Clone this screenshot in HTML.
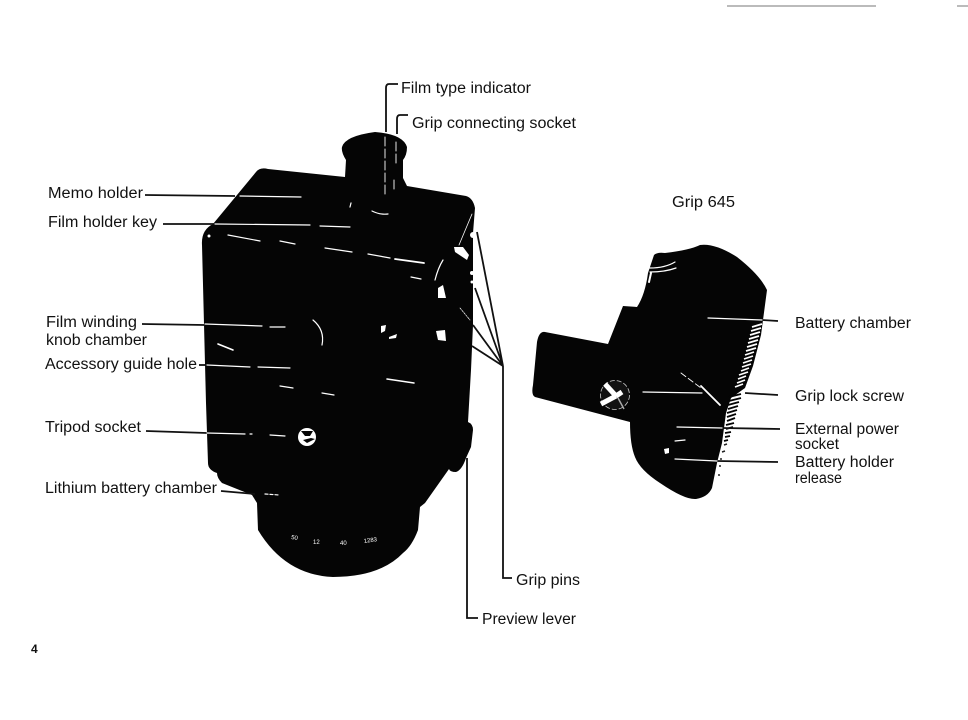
<!DOCTYPE html>
<html><head><meta charset="utf-8"><style>
html,body{margin:0;padding:0;background:#fff}
svg{display:block}
text{font-family:"Liberation Sans",sans-serif;font-size:15.5px;fill:#111}
</style></head><body>
<svg width="968" height="720" viewBox="0 0 968 720" xmlns="http://www.w3.org/2000/svg">
<rect width="968" height="720" fill="#fff"/>
<path d="M727 6H876M957 6H968" stroke="#777" stroke-width="1"/>

<!-- camera body -->
<path d="M256 172Q260 167 268 169L345 177L346 160Q341 152 342 147Q345 136 375 132Q403 134 407 147Q407 155 403 160L403 178L407 186L466 196Q473 198 475 208L473 233L473 325L471 370L468 422Q473 424 473 430L471 447L466 458Q462 470 456 472Q450 472 449 469L425 503L420 507L418 530Q412 546 403 553Q380 577 333 577Q285 575 258 530L257 503L252 495L222 483Q217 478 217 473Q208 470 208 463L206 403L202 245Q201 230 213 224Z" fill="#050505"/>
<!-- grip -->
<path d="M545 332L608 344L623 306L637 307Q645 295 648 273L654 255Q657 252 665 253Q690 250 700 245Q715 243 737 257Q760 275 767 290L763 320L761 335L753 366L745 388L731 398L726 413L722 443L717 463L712 488Q708 497 696 499Q685 500 660 483Q640 470 635 457Q630 445 630 422L535 397Q531 395 533 385L537 342Q539 331 545 332Z" fill="#050505"/>
<!-- knurling -->
<path d="M752 327l10 -3M751 331l10 -3M750 335l10 -3M749 339l10 -3M748 343l10 -3M747 347l10 -3M746 351l10 -3M745 355l9 -3M744 359l9 -3M743 363l9 -3M742 367l9 -3M741 371l8 -3M739 375l9 -3M738 379l8 -3M737 383l8 -3M735 387l8 -3" stroke="#fff" stroke-width="1.7" fill="none"/>
<path d="M729 397l12 -3M729 401l12 -3M728 405l11 -3M728 409l10 -3M727 413l10 -3M727 417l9 -3M727 421l8 -3M726 425l8 -2M726 429l7 -2M725 433l6 -1M725 437l5 -1M724 441l4 -1" stroke="#050505" stroke-width="1.9" fill="none"/>
<path d="M724 445l3 -1M722 452l3 -1M720 459l2 0M719 466l2 0M718 475l2 0" stroke="#222" stroke-width="1.5" fill="none"/>

<!-- black leader lines -->
<g fill="none" stroke="#111" stroke-width="1.8">
<path d="M398 84H389Q386 84 386 88V132"/>
<path d="M408 115H400Q397 115 397 119V134"/>
<path d="M145 195L235 196"/>
<path d="M163 224L214 224"/>
<path d="M142 324L205 325"/>
<path d="M199 365L207 365"/>
<path d="M146 431L207 433"/>
<path d="M221 491L255 494"/>
<path d="M477 232L503 366M475 288L503 366M473 325L503 366M472 346L503 366"/>
<path d="M503 366V578H512"/>
<path d="M467 458V618H478"/>
<path d="M762 320L778 321"/>
<path d="M745 393L778 395"/>
<path d="M722 428L780 429"/>
<path d="M717 461L778 462"/>
</g>

<!-- white details -->
<g fill="none" stroke="#fff" stroke-width="1.2" stroke-linecap="round">
<path d="M385 137V196M396 142V165M394 180V190" stroke-dasharray="9 3" stroke-width="0.9"/>
<path d="M240 196L301 197"/>
<path d="M215 224L310 225M320 226L350 227" />
<path d="M228 235L260 241M280 241L295 244M325 248L352 252M368 254L390 258"/>
<path d="M395 259L424 263" stroke-width="1.8"/>
<path d="M205 324L262 326M270 327L285 327"/>
<path d="M218 344L233 350" stroke-width="1.6"/>
<path d="M207 365L250 367M258 367L290 368"/>
<path d="M207 433L245 434M250 434L252 434M270 435L285 436"/>
<path d="M265 494L279 495" stroke-dasharray="3 2"/>
<path d="M435 280Q438 268 443 260"/>
<path d="M313 320Q325 330 322 345"/>
<path d="M387 379L414 383" stroke-width="1.5"/>
<path d="M322 393L334 395M280 386L293 388"/>
<path d="M372 211Q380 215 388 214M350 207L351 203"/>
<path d="M411 277L421 279"/>
<path d="M459 245L472 214" stroke-width="0.8"/>
<path d="M460 308L470 320" stroke-width="0.7" stroke-dasharray="2 1"/>
<path d="M708 318L762 320"/>
<path d="M643 392L702 393"/>
<path d="M677 427L722 428"/>
<path d="M675 459L717 461"/>
<path d="M681 373L701 388" stroke-dasharray="6 3" stroke-width="0.9"/>
<path d="M701 386L720 405" stroke-width="1.8"/>
<path d="M675 441L685 440"/>
<path d="M650 268Q665 268 675 262M650 272Q665 272 676 268"/>
<path d="M649 282L651 273" stroke-width="2"/>
</g>
<!-- small glyph details -->
<g fill="#fff">
<path d="M438 288L443 285L446 298L438 298Z"/>
<path d="M436 331L445 330L446 341L438 340Z"/>
<path d="M454 247L463 247L469 255L467 260L455 252Z"/>
<circle cx="473" cy="235" r="3"/>
<circle cx="472" cy="273" r="2"/>
<circle cx="472" cy="282" r="1.5"/>
<circle cx="209" cy="236" r="1.5"/>
<path d="M381 326L386 325L385 331L381 333Z"/>
<path d="M389 337L397 334L396 338L389 339Z"/>
</g>
<!-- tripod socket -->
<circle cx="307" cy="437" r="9" fill="#fff"/>
<path d="M301 431L313 431L310 436L305 436ZM311 438L315 439L307 443L303 440Z" fill="#050505"/>
<!-- grip lock screw -->
<circle cx="615" cy="395" r="14.5" fill="#111" stroke="#ccc" stroke-width="0.8" stroke-dasharray="5 2"/>
<path d="M605 384L616 396M601 404L616 396M616 396L622 392" stroke="#fff" stroke-width="5" fill="none"/>
<path d="M618 398L624 409" stroke="#aaa" stroke-width="1.5" fill="none"/>
<path d="M664 449L669 448L669 453L665 454Z" fill="#fff"/>
<!-- lens markings -->
<g>
<text x="291" y="539" style="font-size:6px;fill:#fff" transform="rotate(8 291 539)">50</text>
<text x="313" y="544" style="font-size:6px;fill:#fff">12</text>
<text x="340" y="545" style="font-size:6px;fill:#fff">40</text>
<text x="364" y="543" style="font-size:6px;fill:#fff" transform="rotate(-8 364 543)">1283</text>
</g>

<!-- labels -->
<text x="401" y="93" textLength="130" lengthAdjust="spacingAndGlyphs">Film type indicator</text>
<text x="412" y="128" textLength="164" lengthAdjust="spacingAndGlyphs">Grip connecting socket</text>
<text x="48" y="198" textLength="95" lengthAdjust="spacingAndGlyphs">Memo holder</text>
<text x="48" y="227" textLength="109" lengthAdjust="spacingAndGlyphs">Film holder key</text>
<text x="46" y="327" textLength="91" lengthAdjust="spacingAndGlyphs">Film winding</text>
<text x="46" y="345" textLength="101" lengthAdjust="spacingAndGlyphs">knob chamber</text>
<text x="45" y="369" textLength="152" lengthAdjust="spacingAndGlyphs">Accessory guide hole</text>
<text x="45" y="432" textLength="96" lengthAdjust="spacingAndGlyphs">Tripod socket</text>
<text x="45" y="493" textLength="172" lengthAdjust="spacingAndGlyphs">Lithium battery chamber</text>
<text x="672" y="207" textLength="63" lengthAdjust="spacingAndGlyphs">Grip 645</text>
<text x="795" y="328" textLength="116" lengthAdjust="spacingAndGlyphs">Battery chamber</text>
<text x="795" y="401" textLength="109" lengthAdjust="spacingAndGlyphs">Grip lock screw</text>
<text x="795" y="434" textLength="104" lengthAdjust="spacingAndGlyphs">External power</text>
<text x="795" y="449" textLength="44" lengthAdjust="spacingAndGlyphs">socket</text>
<text x="795" y="467" textLength="99" lengthAdjust="spacingAndGlyphs">Battery holder</text>
<text x="795" y="483" textLength="47" lengthAdjust="spacingAndGlyphs">release</text>
<text x="516" y="585" textLength="64" lengthAdjust="spacingAndGlyphs">Grip pins</text>
<text x="482" y="624" textLength="94" lengthAdjust="spacingAndGlyphs">Preview lever</text>
<text x="31" y="653" style="font-weight:bold;font-size:12px">4</text>
</svg>
</body></html>
